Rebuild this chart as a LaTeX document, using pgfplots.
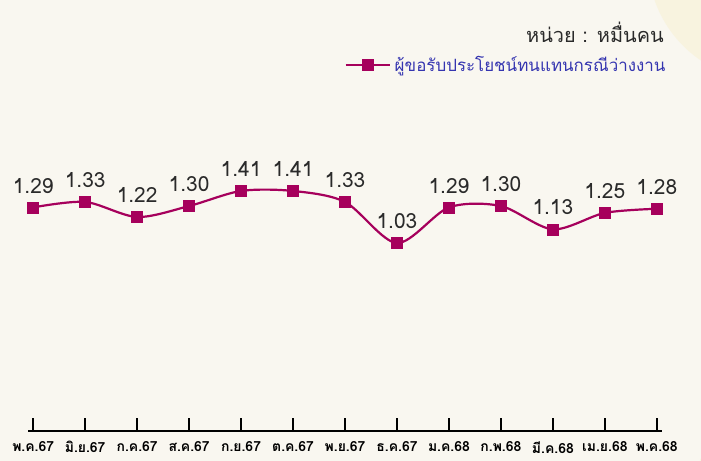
\documentclass[border=0pt]{standalone}
\usepackage{fontspec}
\setmainfont[Script=Thai]{Loma}
\usepackage{pgfplots}
\pgfplotsset{compat=1.18}
\definecolor{bg}{HTML}{F9F7F0}
\definecolor{tint}{HTML}{F8F3DF}
\definecolor{linec}{HTML}{A6005C}
\definecolor{legc}{HTML}{3535B0}
\definecolor{titlec}{HTML}{2A2A2A}
\begin{document}
\begin{tikzpicture}[x=1bp,y=1bp]
\path[use as bounding box, fill=bg] (-28,-30) rectangle (673,431);
\begin{scope}
\clip (-28,-30) rectangle (673,431);
\fill[tint] (740,470) circle (120);
\fill[tint] (700,-40) circle (30);
\end{scope}
\node[anchor=east, font=\fontsize{20}{24}\selectfont, text=titlec, inner sep=0pt] at (636,399) {หน่วย : หมื่นคน};
\begin{axis}[
  scale only axis,
  width=634bp, height=371bp,
  at={(0,0)}, anchor=south west,
  xmin=-0.1, xmax=12.1,
  ymin=-0.342, ymax=2.366,
  axis y line=none,
  axis x line*=bottom,
  axis line style={-, line width=1.8bp, black},
  xtick={0,...,12},
  xticklabels={พ.ค.67,มิ.ย.67,ก.ค.67,ส.ค.67,ก.ย.67,ต.ค.67,พ.ย.67,ธ.ค.67,ม.ค.68,ก.พ.68,มี.ค.68,เม.ย.68,พ.ค.68},
  tick align=inside,
  major tick length=13bp,
  xtick style={line width=1.8bp, black},
  xticklabel style={font=\fontsize{14}{16}\selectfont\bfseries, anchor=north, yshift=-7bp, text=black},
  clip=false,
  nodes near coords,
  point meta=explicit symbolic,
  nodes near coords style={anchor=south, inner sep=0pt, yshift=14bp, font=\fontsize{21}{24}\selectfont, text=titlec},
  legend style={at={(axis description cs:1.012,0.9865)}, anchor=east, draw=none, fill=none,
    font=\fontsize{17}{20}\selectfont, text=legc, inner sep=0pt, nodes={inner xsep=4bp, inner ysep=0pt}, cells={anchor=west}},
  legend image code/.code={\draw[#1, mark repeat=2, mark phase=2] plot coordinates {(0bp,0bp) (22bp,0bp) (44bp,0bp)};},
]
\addplot[color=linec, line width=2.2bp, smooth, tension=0.5, mark=square*, mark size=5.5bp, mark options={fill=linec, draw=linec, line width=0.5bp}]
  coordinates {
  (0,1.29) [1.29]
  (1,1.33) [1.33]
  (2,1.22) [1.22]
  (3,1.30) [1.30]
  (4,1.41) [1.41]
  (5,1.41) [1.41]
  (6,1.33) [1.33]
  (7,1.03) [1.03]
  (8,1.29) [1.29]
  (9,1.30) [1.30]
  (10,1.13) [1.13]
  (11,1.25) [1.25]
  (12,1.28) [1.28]
  };
\addlegendentry{ผู้ขอรับประโยชน์ทนแทนกรณีว่างงาน}
\end{axis}
\end{tikzpicture}
\end{document}
